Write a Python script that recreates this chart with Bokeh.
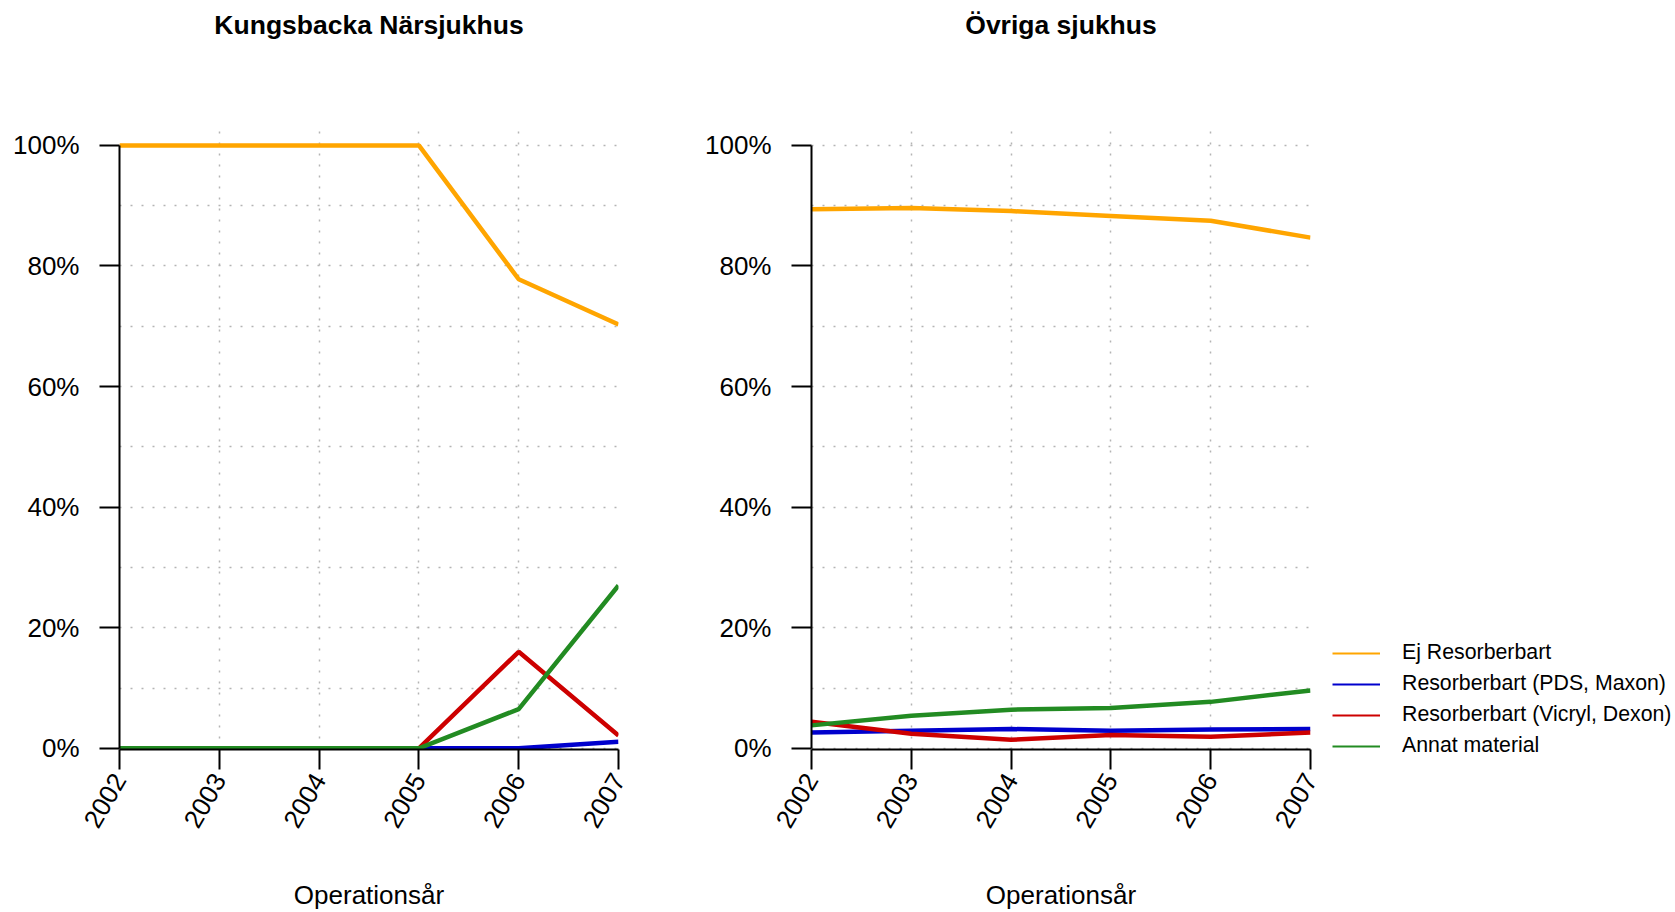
import math
from bokeh.plotting import figure
from bokeh.models import (Range1d, FixedTicker, PrintfTickFormatter, Legend, LegendItem,
                          ColumnDataSource)
from bokeh.core.properties import value
from bokeh.layouts import row, column
from bokeh.embed import file_html
from bokeh.resources import INLINE

# ---------------- data ----------------
years = [2002, 2003, 2004, 2005, 2006, 2007]
series_names = ["Ej Resorberbart", "Resorberbart (PDS, Maxon)",
                "Resorberbart (Vicryl, Dexon)", "Annat material"]
series_colors = ["#FFA500", "#0000CD", "#CD0000", "#228B22"]

kungsbacka_ej = [100, 100, 100, 100, 77.8, 70.3]
kungsbacka_pds = [0, 0, 0, 0, 0, 1.1]
kungsbacka_vicryl = [0, 0, 0, 0, 16.0, 2.1]
kungsbacka_annat = [0, 0, 0, 0, 6.5, 27.0]

ovriga_ej = [89.4, 89.6, 89.1, 88.3, 87.5, 84.7]
ovriga_pds = [2.6, 2.9, 3.2, 2.9, 3.1, 3.2]
ovriga_vicryl = [4.4, 2.4, 1.4, 2.2, 1.9, 2.6]
ovriga_annat = [3.8, 5.4, 6.4, 6.7, 7.7, 9.6]

panel_titles = ["Kungsbacka Närsjukhus", "Övriga sjukhus"]
x_label = "Operationsår"
y_ticks = [0, 20, 40, 60, 80, 100]
y_grid_ticks = [0, 10, 20, 30, 40, 50, 60, 70, 80, 90, 100]

FONT = "Liberation Sans"
STRIP_H = 50
FIG_H = 912 - STRIP_H
LEFT_W = 648
RIGHT_W = 683
LEGEND_W = 1675 - LEFT_W - RIGHT_W


def make_panel(series, min_left, min_right, width):
    p = figure(width=width, height=FIG_H, output_backend="svg", toolbar_location=None,
               x_range=Range1d(years[0], years[-1]), y_range=Range1d(-0.2, 102.8),
               min_border_left=min_left, min_border_right=min_right,
               min_border_top=78, min_border_bottom=161,
               outline_line_color=None, background_fill_color="white",
               border_fill_color="white")

    xa = p.below[0]
    ya = p.left[0]

    xa.ticker = FixedTicker(ticks=years)
    xa.major_label_orientation = math.pi / 3
    xa.major_label_text_font = FONT
    xa.major_label_text_font_size = "26px"
    xa.major_label_text_color = "black"
    xa.major_label_standoff = 6
    xa.axis_label = x_label
    xa.axis_label_text_font = FONT
    xa.axis_label_text_font_size = "26px"
    xa.axis_label_text_font_style = "normal"
    xa.axis_label_text_color = "black"
    xa.axis_label_standoff = 42

    ya.ticker = FixedTicker(ticks=y_ticks)
    ya.formatter = PrintfTickFormatter(format="%d%%")
    ya.bounds = (0, 100)
    ya.major_label_text_font = FONT
    ya.major_label_text_font_size = "26px"
    ya.major_label_text_color = "black"
    ya.major_label_standoff = 20

    for ax in (xa, ya):
        ax.axis_line_color = "black"
        ax.axis_line_width = 2
        ax.major_tick_line_color = "black"
        ax.major_tick_line_width = 2
        ax.major_tick_out = 20
        ax.major_tick_in = 0
        ax.minor_tick_line_color = None

    p.xgrid[0].ticker = FixedTicker(ticks=years)
    p.ygrid[0].ticker = FixedTicker(ticks=y_grid_ticks)
    for g in (p.xgrid[0], p.ygrid[0]):
        g.grid_line_color = "#B4B4B4"
        g.grid_line_width = 1.5
        g.grid_line_dash = "2 9"

    for name, color, vals in zip(series_names, series_colors, series):
        p.line(years, vals, line_color=color, line_width=4.5)
    return p


left = make_panel([kungsbacka_ej, kungsbacka_pds, kungsbacka_vicryl, kungsbacka_annat],
                  min_left=119, min_right=30, width=LEFT_W)
right = make_panel([ovriga_ej, ovriga_pds, ovriga_vicryl, ovriga_annat],
                   min_left=163, min_right=21, width=RIGHT_W)

# title strip across the top (titles centred over each plot frame)
strip = figure(width=1675, height=STRIP_H, output_backend="svg", toolbar_location=None,
               x_axis_type=None, y_axis_type=None, x_range=Range1d(0, 1675),
               y_range=Range1d(0, STRIP_H), min_border=0, outline_line_color=None,
               background_fill_color="white", border_fill_color="white",
               frame_align=False)
strip.xgrid.visible = False
strip.ygrid.visible = False
title_src = ColumnDataSource(dict(
    x=[119 + 499 / 2, LEFT_W + 163 + 499 / 2],
    y=[STRIP_H - 24.6, STRIP_H - 24.6],
    text=panel_titles))
strip.text(x="x", y="y", text="text", source=title_src,
           text_font=value(FONT), text_font_size="26.5px", text_font_style="bold",
           text_color="black", text_align="center", text_baseline="middle")

# legend in its own figure to the right
lg = figure(width=LEGEND_W, height=FIG_H, output_backend="svg", toolbar_location=None,
            x_axis_type=None, y_axis_type=None, x_range=Range1d(0, 1),
            y_range=Range1d(0, 1), min_border=0, outline_line_color=None,
            background_fill_color="white", border_fill_color="white",
            frame_align=False)
lg.xgrid.visible = False
lg.ygrid.visible = False
items = []
for name, color in zip(series_names, series_colors):
    r = lg.line([0.5], [float("nan")], line_color=color, line_width=2)
    items.append(LegendItem(label=name, renderers=[r]))
legend = Legend(items=items, location=(1, 154),
                glyph_width=48, glyph_height=24, label_height=24,
                label_standoff=22, spacing=6, padding=0, margin=0,
                label_text_font=FONT, label_text_font_size="21.3px",
                label_text_color="black",
                border_line_color=None, background_fill_alpha=0)
lg.add_layout(legend, "center")

layout = column(strip, row(left, right, lg))
open("out.html", "w").write(file_html(layout, INLINE))
